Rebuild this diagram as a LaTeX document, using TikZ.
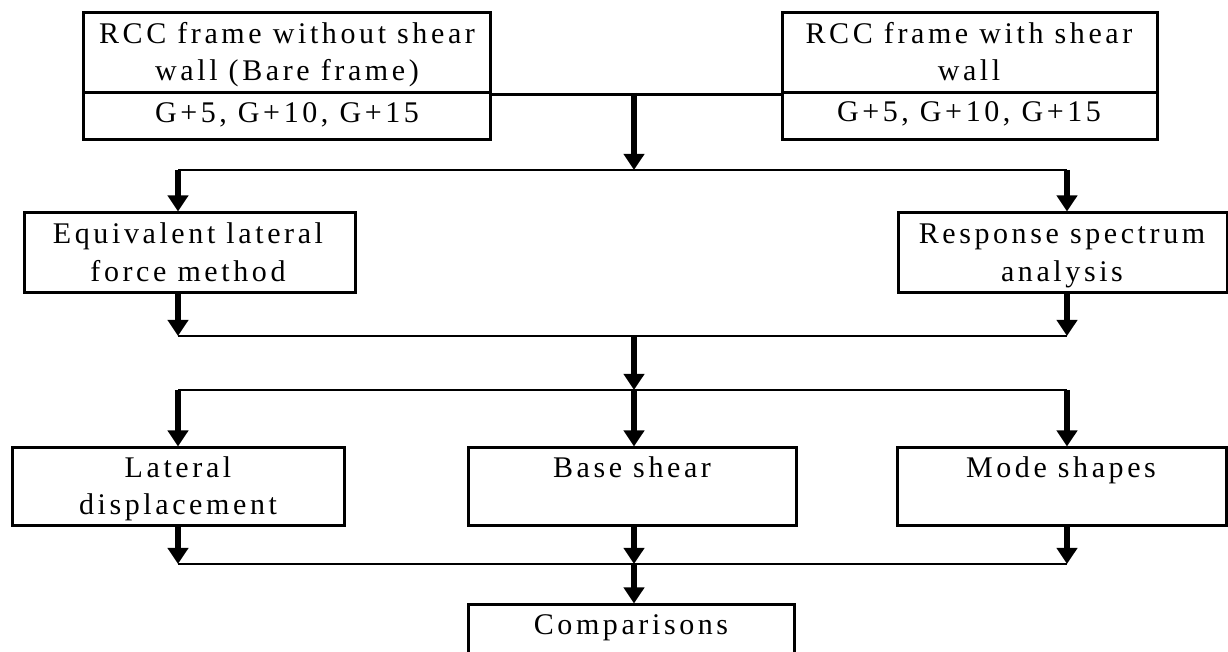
\documentclass[tikz,border=0pt]{standalone}
\usepackage{fontspec}
\setmainfont{Liberation Serif}[LetterSpace=12]
\usetikzlibrary{arrows.meta,fit}
\begin{document}
\begin{tikzpicture}[x=0.5pt,y=-0.5pt,
  box/.style={draw,line width=1.5pt,inner sep=0pt},
  lbl/.style={anchor=base,inner sep=0pt,font=\fontsize{15}{17}\selectfont},
  wire/.style={line width=1.4pt},
  arr/.style={line width=2.8pt,-{Triangle[width=10pt,length=8pt]}}]
\clip (0,0) rectangle (1228,652);
% boxes
\node[box,fit={(83,13)(490,93)}] (tl) {};
\node[box,fit={(83,93)(490,140)}] (tlb) {};
\node[box,fit={(782,13)(1157,93)}] (tr) {};
\node[box,fit={(782,93)(1157,140)}] (trb) {};
\node[box,fit={(24,213)(355,293)}] (eq) {};
\node[box,fit={(898,213)(1227,293)}] (rs) {};
\node[box,fit={(12,448)(344,526)}] (ld) {};
\node[box,fit={(468,448)(796,526)}] (bs) {};
\node[box,fit={(897,448)(1226,526)}] (ms) {};
\node[box,fit={(468,605)(794,700)}] (cp) {};
% labels
\node[lbl] (t1) at (287,44) {RCC frame without shear};
\node[lbl] (t2) at (287,81) {wall (Bare frame)};
\node[lbl] (t3) at (287,123) {G+5, G+10, G+15};
\node[lbl] (t4) at (969,44) {RCC frame with shear};
\node[lbl] (t5) at (969,81) {wall};
\node[lbl] (t6) at (969,122) {G+5, G+10, G+15};
\node[lbl] (t7) at (188,244) {Equivalent lateral};
\node[lbl] (t8) at (188,282) {force method};
\node[lbl] (t9) at (1062,244) {Response spectrum};
\node[lbl] (t10) at (1062,282) {analysis};
\node[lbl] (t11) at (178,478) {Lateral};
\node[lbl] (t12) at (178,515) {displacement};
\node[lbl] (t13) at (632,478) {Base shear};
\node[lbl] (t14) at (1061,478) {Mode shapes};
\node[lbl] (t15) at (631,634) {Comparisons};
% junctions
\coordinate (a1) at (634,93);
\coordinate (h1l) at (178,170);
\coordinate (h1m) at (634,170);
\coordinate (h1r) at (1067,170);
\coordinate (h2l) at (178,336);
\coordinate (h2m) at (634,336);
\coordinate (h2r) at (1067,336);
\coordinate (h3l) at (178,390);
\coordinate (h3m) at (634,390);
\coordinate (h3r) at (1067,390);
\coordinate (h4l) at (178,564);
\coordinate (h4m) at (634,564);
\coordinate (h4r) at (1067,564);
% connectors
\draw[wire] (tl.south east) -- (tr.south west);
\draw[arr] (a1) -- (h1m);
\draw[wire] (h1l) -- (h1r);
\draw[arr] (h1l) -- (h1l |- eq.north);
\draw[arr] (h1r) -- (h1r |- rs.north);
\draw[arr] (h1l |- eq.south) -- (h2l);
\draw[arr] (h1r |- rs.south) -- (h2r);
\draw[wire] (h2l) -- (h2r);
\draw[arr] (h2m) -- (h3m);
\draw[wire] (h3l) -- (h3r);
\draw[arr] (h3l) -- (h3l |- ld.north);
\draw[arr] (h3m) -- (h3m |- bs.north);
\draw[arr] (h3r) -- (h3r |- ms.north);
\draw[arr] (h3l |- ld.south) -- (h4l);
\draw[arr] (h3m |- bs.south) -- (h4m);
\draw[arr] (h3r |- ms.south) -- (h4r);
\draw[wire] (h4l) -- (h4r);
\draw[arr] (h4m) -- (h4m |- cp.north);
\end{tikzpicture}
\end{document}
